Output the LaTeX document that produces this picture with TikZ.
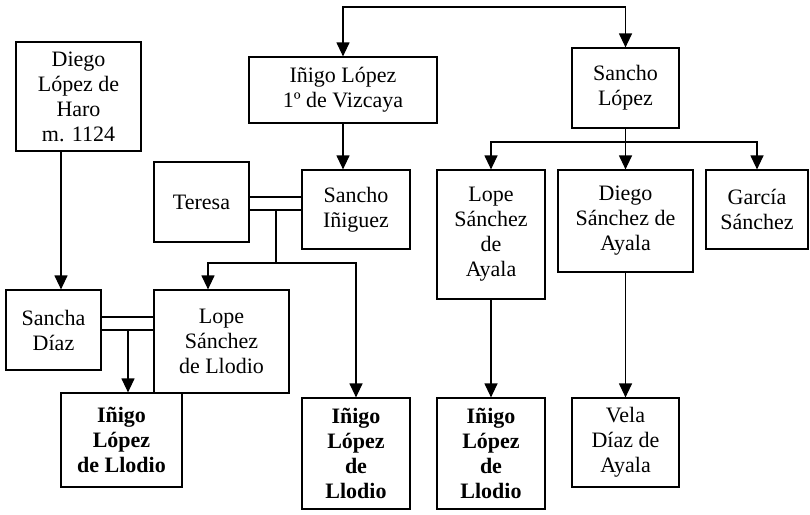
\documentclass[tikz,border=0pt]{standalone}
\usepackage{fontspec}
\setmainfont{Liberation Serif}
\usetikzlibrary{arrows.meta,positioning}

\begin{document}
\begin{tikzpicture}[x=1pt,y=-1pt,line width=1.2pt,>={Triangle[width=13pt,length=14pt]},
  person/.style={draw,align=center,inner sep=0pt,font=\fontsize{22}{25}\selectfont},
  heir/.style={person,font=\fontsize{22}{25}\selectfont\bfseries}]
\useasboundingbox (0,0) rectangle (810,514);
% left branch
\node[person,minimum width=125,minimum height=109](diego) at (78.5,96.5) {Diego\\López de\\Haro\\m. 1124};
\node[person,minimum width=95,minimum height=80](sancha) at (53.5,330) {Sancha\\Díaz};
\node[person,minimum width=135,minimum height=103](lopell) at (221.5,341.5) {Lope\\Sánchez\\de Llodio};
\node[heir,minimum width=121,minimum height=94](inigoA) at (121.5,440) {Iñigo\\López\\de Llodio};
% Vizcaya
\node[person,minimum width=188,minimum height=66](inigo) at (343,90) {Iñigo López\\1º de Vizcaya};
\node[person,minimum width=95,minimum height=80](teresa) at (201.5,202) {Teresa};
\node[person,minimum width=108,minimum height=79](sanchoi) at (356,209.5) {Sancho\\Iñiguez};
\node[heir,minimum width=108,minimum height=111](inigoB) at (356,453.5) {Iñigo\\López\\de\\Llodio};
% Ayala
\node[person,minimum width=107,minimum height=80](sanchol) at (625.5,88) {Sancho\\López};
\node[person,minimum width=108,minimum height=129](lopeay) at (491,234.5) {Lope\\Sánchez\\de\\Ayala};
\node[person,minimum width=135,minimum height=102](diegoay) at (625.5,221) {Diego\\Sánchez de\\Ayala};
\node[person,minimum width=102,minimum height=79](garcia) at (757,209.5) {García\\Sánchez};
\node[heir,minimum width=108,minimum height=111](inigoC) at (491,453.5) {Iñigo\\López\\de\\Llodio};
\node[person,minimum width=107,minimum height=89](vela) at (625.5,442.5) {Vela\\Díaz de\\Ayala};

\coordinate (top) at (484,7);
\coordinate (tj) at (276,210);
\coordinate (tk) at (276,263);
\coordinate (sj) at (128,330);
\coordinate (sl) at (625.5,142);

\draw[->] (top) -| (inigo);
\draw[->] (top) -| (sanchol);
\draw[->] (inigo) -- (inigo |- sanchoi.north);
% marriages
\draw ([yshift=5pt]teresa.east) -- ([yshift=5pt]teresa.east -| sanchoi.west)
      ([yshift=-8pt]teresa.east) -- ([yshift=-8pt]teresa.east -| sanchoi.west);
\draw ([yshift=13pt]sancha.east) -- ([yshift=13pt]sancha.east -| lopell.west)
      (sancha.east) -- (sancha.east -| lopell.west);
\draw (tj) -- (tk);
\draw[->] (tk) -| ([xshift=-13.5pt]lopell.north);
\draw[->] (tk) -| (inigoB);
\draw[->] ([xshift=-17.5pt]diego.south) -- ([xshift=-17.5pt]diego.south |- sancha.north);
\draw[->] (sj) -- (sj |- inigoA.north);
% sons of Sancho
\draw (sanchol) -- (sl);
\draw[->] (sl) -| (lopeay);
\draw[->] (sl) -| (diegoay);
\draw[->] (sl) -| (garcia);
\draw[->] (lopeay) -- (inigoC);
\draw[->] (diegoay) -- (vela);
\end{tikzpicture}
\end{document}
